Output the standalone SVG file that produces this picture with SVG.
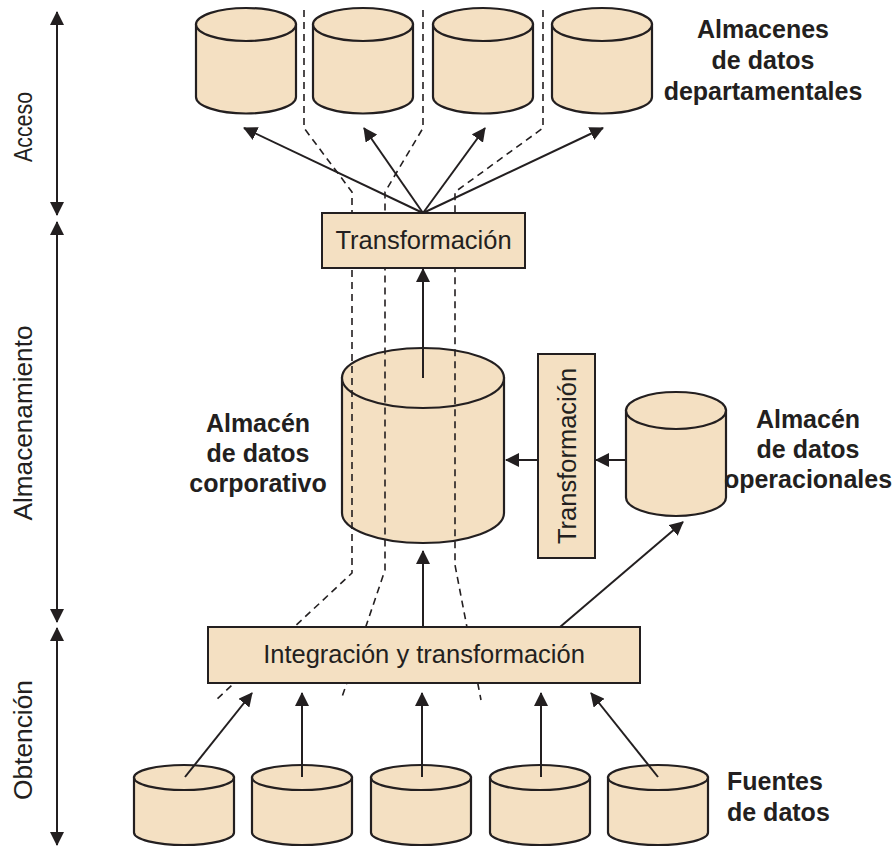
<svg xmlns="http://www.w3.org/2000/svg" width="896" height="848" viewBox="0 0 896 848">
<defs>
<style>
.cyl{fill:#F4E0C2;stroke:#231F20;stroke-width:2.2}
.box{fill:#F4E0C2;stroke:#231F20;stroke-width:2}
.dash{fill:none;stroke:#231F20;stroke-width:1.6;stroke-dasharray:7 5}
.arr{fill:none;stroke:#231F20;stroke-width:2;marker-end:url(#ah)}
.ax{fill:none;stroke:#231F20;stroke-width:2;marker-start:url(#ah);marker-end:url(#ah)}
.t{font-family:"Liberation Sans",Arial,sans-serif;fill:#231F20}
.lbl{font-size:25.5px;text-anchor:middle}
.bold{font-size:25px;font-weight:bold}
.side{font-size:25px;text-anchor:middle}
</style>
<marker id="ah" viewBox="0 0 14 14" markerWidth="14" markerHeight="14" refX="13" refY="7" orient="auto-start-reverse" markerUnits="userSpaceOnUse">
<path d="M0,0 L14,7 L0,14 Z" fill="#231F20"/>
</marker>
</defs>
<rect width="896" height="848" fill="#ffffff"/>

<!-- Top cylinders: departmental data stores -->
<g id="dep1"><path class="cyl" d="M196,24.5 L196,97 A50,16.5 0 0 0 296,97 L296,24.5 Z"/><ellipse class="cyl" cx="246" cy="24.5" rx="50" ry="16.5"/></g>
<g id="dep2"><path class="cyl" d="M313,24.5 L313,97 A50,16.5 0 0 0 413,97 L413,24.5 Z"/><ellipse class="cyl" cx="363" cy="24.5" rx="50" ry="16.5"/></g>
<g id="dep3"><path class="cyl" d="M433,24.5 L433,97 A50,16.5 0 0 0 533,97 L533,24.5 Z"/><ellipse class="cyl" cx="483" cy="24.5" rx="50" ry="16.5"/></g>
<g id="dep4"><path class="cyl" d="M552,24.5 L552,97 A50,16.5 0 0 0 652,97 L652,24.5 Z"/><ellipse class="cyl" cx="602" cy="24.5" rx="50" ry="16.5"/></g>

<!-- Corporate data warehouse -->
<g id="corp"><path class="cyl" d="M342,378 L342,513 A81,30 0 0 0 504,513 L504,378 Z"/><ellipse class="cyl" cx="423" cy="378" rx="81" ry="30"/></g>

<!-- Operational data store -->
<g id="ods"><path class="cyl" d="M626,410.5 L626,497.5 A50,18.5 0 0 0 726,497.5 L726,410.5 Z"/><ellipse class="cyl" cx="676" cy="410.5" rx="50" ry="18.5"/></g>

<!-- Source cylinders -->
<g id="src1"><path class="cyl" d="M134,777.5 L134,832.5 A50,12.5 0 0 0 234,832.5 L234,777.5 Z"/><ellipse class="cyl" cx="184" cy="777.5" rx="50" ry="12.5"/></g>
<g id="src2"><path class="cyl" d="M252,777.5 L252,832.5 A50,12.5 0 0 0 352,832.5 L352,777.5 Z"/><ellipse class="cyl" cx="302" cy="777.5" rx="50" ry="12.5"/></g>
<g id="src3"><path class="cyl" d="M371,777.5 L371,832.5 A50,12.5 0 0 0 471,832.5 L471,777.5 Z"/><ellipse class="cyl" cx="421" cy="777.5" rx="50" ry="12.5"/></g>
<g id="src4"><path class="cyl" d="M490,777.5 L490,832.5 A50,12.5 0 0 0 590,832.5 L590,777.5 Z"/><ellipse class="cyl" cx="540" cy="777.5" rx="50" ry="12.5"/></g>
<g id="src5"><path class="cyl" d="M608,777.5 L608,832.5 A50,12.5 0 0 0 708,832.5 L708,777.5 Z"/><ellipse class="cyl" cx="658" cy="777.5" rx="50" ry="12.5"/></g>

<!-- Dashed flow boundaries -->
<g id="dashes">
<path class="dash" d="M304,10 L304,128 L352,192 L352,573 L216,700"/>
<path class="dash" d="M423,10 L423,128 L385,192 L385,570 L341,700"/>
<path class="dash" d="M543,10 L543,128 L455,192 L455,565 L481,700"/>
</g>

<!-- Boxes -->
<g id="transf-top"><rect class="box" x="322" y="213" width="203" height="55"/><text class="t lbl" x="423.5" y="248.5">Transformación</text></g>
<g id="transf-side"><rect class="box" x="538" y="354" width="57" height="204"/><text class="t lbl" transform="translate(576,456) rotate(-90)">Transformación</text></g>
<g id="integ"><rect class="box" x="208" y="627" width="432" height="56"/><text class="t lbl" x="424" y="663">Integración y transformación</text></g>

<!-- Connectors -->
<g id="connectors">
<line class="arr" x1="423" y1="213" x2="244" y2="128"/>
<line class="arr" x1="423" y1="213" x2="364" y2="128"/>
<line class="arr" x1="423" y1="213" x2="485" y2="128"/>
<line class="arr" x1="423" y1="213" x2="603" y2="128"/>
<line class="arr" x1="423" y1="378" x2="423" y2="269"/>
<line class="arr" x1="538" y1="460" x2="506" y2="460"/>
<line class="arr" x1="626" y1="460" x2="596" y2="460"/>
<line class="arr" x1="423" y1="627" x2="423" y2="551"/>
<line class="arr" x1="560" y1="627" x2="683" y2="522"/>
<line class="arr" x1="185" y1="777" x2="252" y2="693"/>
<line class="arr" x1="302" y1="777" x2="302" y2="693"/>
<line class="arr" x1="422" y1="777" x2="422" y2="693"/>
<line class="arr" x1="541" y1="777" x2="541" y2="693"/>
<line class="arr" x1="658" y1="777" x2="591" y2="693"/>
</g>

<!-- Left axis -->
<g id="axis">
<line class="ax" x1="57" y1="12" x2="57" y2="215"/>
<line class="ax" x1="57" y1="222" x2="57" y2="622"/>
<line class="ax" x1="57" y1="628" x2="57" y2="845"/>
<text class="t side" transform="translate(32,127) rotate(-90)" textLength="70" lengthAdjust="spacingAndGlyphs">Acceso</text>
<text class="t side" transform="translate(32,423) rotate(-90)" textLength="195" lengthAdjust="spacingAndGlyphs">Almacenamiento</text>
<text class="t side" transform="translate(32,740) rotate(-90)" textLength="120" lengthAdjust="spacingAndGlyphs">Obtención</text>
</g>

<!-- Labels -->
<g id="lbl-dep" class="t bold" text-anchor="middle">
<text x="763" y="38">Almacenes</text>
<text x="763" y="69">de datos</text>
<text x="763" y="100">departamentales</text>
</g>
<g id="lbl-corp" class="t bold" text-anchor="middle">
<text x="258" y="432">Almacén</text>
<text x="258" y="462">de datos</text>
<text x="258" y="492">corporativo</text>
</g>
<g id="lbl-ods" class="t bold" text-anchor="middle">
<text x="808" y="428">Almacén</text>
<text x="808" y="458">de datos</text>
<text x="808" y="488">operacionales</text>
</g>
<g id="lbl-src" class="t bold">
<text x="727" y="790">Fuentes</text>
<text x="727" y="821">de datos</text>
</g>
</svg>
